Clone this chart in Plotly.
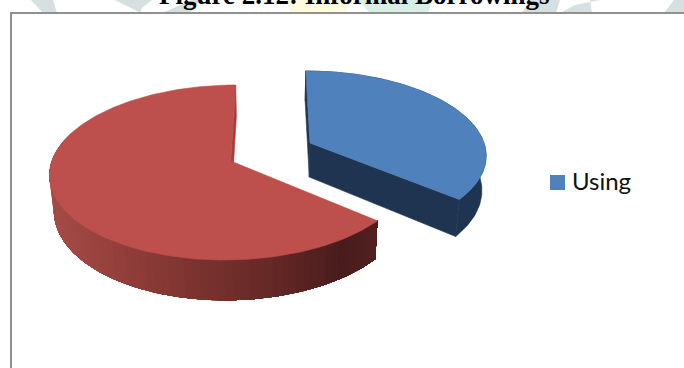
import math
import plotly.graph_objects as go

# Pie data
categories = ["Using", "Not using"]
shares = [36.0, 64.0]
legend_labels = ["Using"]
title_text = "Figure 2.12: Informal Borrowings"

# Perspective camera for the tilted disc
VANISH_X, VANISH_Y = 273.0, 161.0
RADIUS_X, RADIUS_Y = 179.0, 86.0
PERSPECTIVE = 0.1315
THICKNESS = 35.0
BASE_SHRINK = 0.98
EXPLODE = {"Using": (0.2125, -0.215), "Not using": (-0.236, 0.0)}

TOP_COLOR = {"Using": "#4F81BD", "Not using": "#BD4F4C"}
BLUE_WALL = "#1E3451"
RED_CUT = "#A23F3D"
# Shading of the red rim from left to right across the canvas
RED_RIM = [(50, (165, 75, 70)), (120, (146, 62, 58)), (200, (120, 50, 46)),
           (270, (100, 40, 38)), (340, (72, 28, 28)), (380, (84, 32, 32))]


def project(wx, wy, base=False):
    w = 1 - PERSPECTIVE * wy
    x = VANISH_X + RADIUS_X * wx / w
    y = VANISH_Y + RADIUS_Y * wy / w
    if base:
        x = VANISH_X + (x - VANISH_X) * BASE_SHRINK
        y += THICKNESS / w
    return x, y


def rim_point(name, deg, base=False):
    ox, oy = EXPLODE[name]
    t = math.radians(deg)
    return project(ox + math.sin(t), oy - math.cos(t), base)


def apex(name, base=False):
    return project(*EXPLODE[name], base)


def arc(name, start, end, base=False, step=1.0):
    n = max(2, int(abs(end - start) / step))
    return [rim_point(name, start + (end - start) * i / n, base) for i in range(n + 1)]


def rim_color(x):
    for (x0, c0), (x1, c1) in zip(RED_RIM, RED_RIM[1:]):
        if x <= x1:
            f = max(0.0, (x - x0) / (x1 - x0))
            c = [round(a + (b - a) * f) for a, b in zip(c0, c1)]
            return f"rgb({c[0]},{c[1]},{c[2]})"
    return "rgb(84,32,32)"


def polygon(points, color, edge=0.6):
    xs = [p[0] for p in points] + [points[0][0]]
    ys = [p[1] for p in points] + [points[0][1]]
    return go.Scatter(x=xs, y=ys, mode="lines", fill="toself", fillcolor=color,
                      line=dict(color=color, width=edge), hoverinfo="skip", showlegend=False)


fig = go.Figure()

# Slice angles, clockwise from twelve o'clock
total = sum(shares)
angle = 0.0
spans = {}
for name, share in zip(categories, shares):
    spans[name] = (angle, angle + share / total * 360.0)
    angle = spans[name][1]

# Red slice: cut face, shaded rim, top.
# Rim bands are painted from the far left forward, each one running on under the next,
# so that no seams show between neighbouring shades.
r0, r1 = spans["Not using"]
fig.add_trace(polygon([apex("Not using"), rim_point("Not using", r1),
                       rim_point("Not using", r1, True), apex("Not using", True)], RED_CUT))
rim_end = 290.0
steps = 70
for i in range(steps):
    a = rim_end + (r0 - rim_end) * i / steps
    points = arc("Not using", a, r0) + arc("Not using", r0, a, True)
    mid = rim_point("Not using", a)[0]
    fig.add_trace(polygon(points, rim_color(mid), edge=0))
fig.add_trace(polygon([apex("Not using")] + arc("Not using", r0, r1), TOP_COLOR["Not using"]))

# Blue slice: cut faces, rim, top
b0, b1 = spans["Using"]
fig.add_trace(polygon([apex("Using"), rim_point("Using", b0),
                       rim_point("Using", b0, True), apex("Using", True)], BLUE_WALL))
fig.add_trace(polygon([apex("Using"), rim_point("Using", b1),
                       rim_point("Using", b1, True), apex("Using", True)], BLUE_WALL))
fig.add_trace(polygon(arc("Using", b0, b1) + arc("Using", b1, b0, True), BLUE_WALL))
fig.add_trace(polygon([apex("Using")] + arc("Using", b0, b1), TOP_COLOR["Using"]))

# Legend entry
fig.add_trace(go.Scatter(x=[557.5], y=[182.5], mode="markers",
                         marker=dict(symbol="square", size=15, color=TOP_COLOR["Using"]),
                         hoverinfo="skip", showlegend=False))
fig.add_trace(go.Scatter(x=[572], y=[184], mode="text", text=legend_labels,
                         textposition="middle right",
                         textfont=dict(family="Lato", size=24, color="#111111"),
                         hoverinfo="skip", showlegend=False))

# Letterhead strip above the chart frame
GREY, YELLOW, MINT = "#D6E0E1", "#FDFBDC", "#D9EFE6"
strip = [
    ([(31, 0), (53, 0), (57, 13), (43, 13)], GREY),
    ([(115, 0), (152, 0), (142, 8), (140, 13), (135, 10)], GREY),
    ([(162, 13), (192, 0), (200, 0), (190, 13)], GREY),
    ([(287, 0), (352, 0), (345, 13), (290, 13)], YELLOW),
    ([(358, 0), (432, 0), (428, 13), (370, 13)], MINT),
    ([(522, 13), (530, 0), (560, 0), (556, 13)], GREY),
    ([(560, 13), (575, 5), (600, 0), (590, 0), (592, 13)], GREY),
    ([(664, 13), (674, 0), (684, 0), (684, 13)], GREY),
]
shapes = []
for points, color in strip:
    path = "M " + " L ".join(f"{x},{y}" for x, y in points) + " Z"
    shapes.append(dict(type="path", path=path, xref="x", yref="y", fillcolor=color,
                       line=dict(width=0), layer="below"))
# Chart frame, running past the right and bottom edges of the page
shapes.append(dict(type="rect", x0=11, y0=13, x1=700, y1=400, xref="x", yref="y",
                   line=dict(color="#909090", width=2), layer="above"))

fig.update_layout(
    width=684, height=368, autosize=False,
    margin=dict(l=0, r=0, t=0, b=0),
    paper_bgcolor="white", plot_bgcolor="white",
    showlegend=False, shapes=shapes,
    xaxis=dict(range=[0, 684], visible=False, fixedrange=True),
    yaxis=dict(range=[368, 0], visible=False, fixedrange=True),
    annotations=[dict(text=f"<b>{title_text}</b>", x=354.5, y=12, xref="x", yref="y",
                      xanchor="center", yanchor="bottom", showarrow=False,
                      font=dict(family="Liberation Serif", size=27, color="#000000"))],
)

fig.write_html("out.html", config={"displayModeBar": False})
